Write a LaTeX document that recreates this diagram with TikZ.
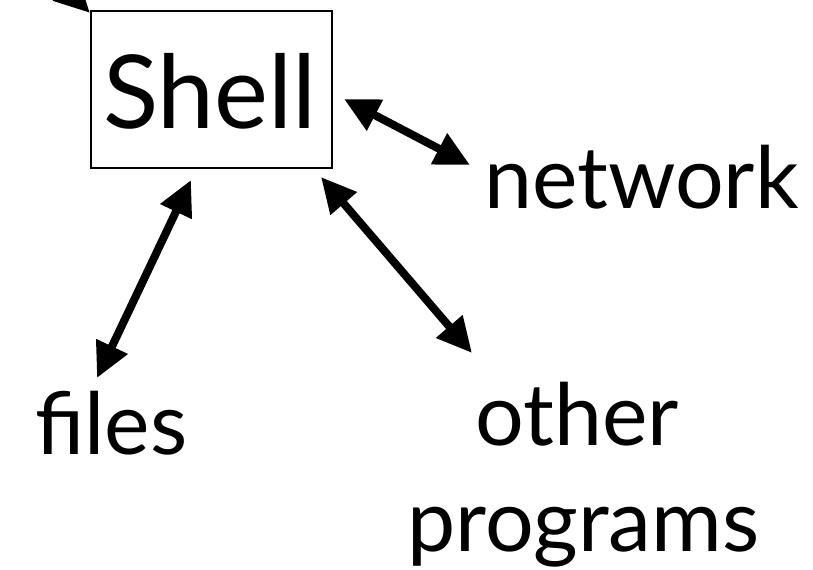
\documentclass[tikz,border=0pt]{standalone}
\usepackage{fontspec}
\setmainfont{Lato}
\usetikzlibrary{arrows.meta}
\tikzset{
  dblarrow/.style={line width=8bp, {Triangle[length=35bp,width=33bp]}-{Triangle[length=35bp,width=33bp]}},
  onearrow/.style={line width=8bp, -{Triangle[length=35bp,width=33bp]}},
  label/.style={inner sep=0pt, anchor=base west, font=\fontsize{86bp}{100bp}\selectfont},
  shellbox/.style={draw, line width=1.8bp, minimum width=241bp, minimum height=157bp, inner sep=0pt}
}
\begin{document}
\begin{tikzpicture}[x=1bp,y=-1bp]
\useasboundingbox (0,0) rectangle (813,570);
\clip (0,0) rectangle (813,570);
\node[shellbox] (shell) at (211.5,89.5) {};
\node[inner sep=0pt, anchor=base, font=\fontsize{102bp}{120bp}\selectfont] (shelltxt) at (210,129) {Shell};
\node[label] (network) at (484,209) {network};
\node[label] (files) at (35,454) {files};
\node[label] (other) at (475,445) {other};
\node[label] (programs) at (407,551) {programs};
\coordinate (in) at (40,-37);
\coordinate (inTip) at (90,13);
\coordinate (netA) at (344,99);
\coordinate (netB) at (470,165);
\coordinate (filA) at (191,180);
\coordinate (filB) at (97,378);
\coordinate (othA) at (321,177);
\coordinate (othB) at (472,353);
\draw[onearrow] (in) -- (inTip);
\draw[dblarrow] (netA) -- (netB);
\draw[dblarrow] (filA) -- (filB);
\draw[dblarrow] (othA) -- (othB);
\end{tikzpicture}
\end{document}
